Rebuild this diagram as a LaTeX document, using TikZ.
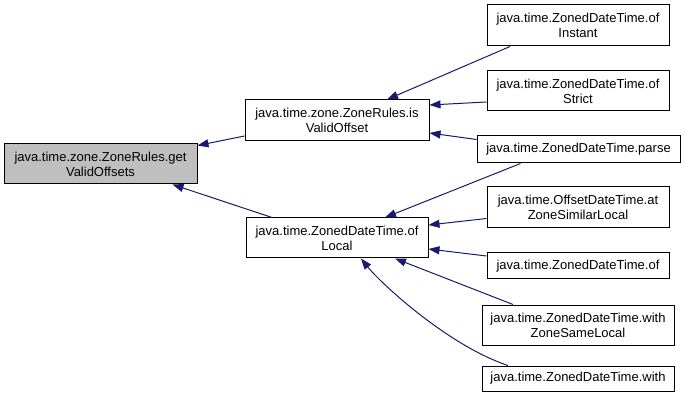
\documentclass[tikz,border=0pt]{standalone}
\usepackage{fontspec}
\setmainfont{Liberation Sans}
\usetikzlibrary{arrows.meta}
\definecolor{edgecol}{HTML}{191970}
\begin{document}
\begin{tikzpicture}[x=1pt,y=-1pt,
  box/.style={draw=black,line width=1pt,fill=white,align=center,inner sep=1pt,
    font=\fontsize{13}{15}\selectfont,anchor=center},
  edge/.style={draw=edgecol,line width=1pt,-{Triangle[length=11pt,width=8pt]}}]
\useasboundingbox (0,0) rectangle (685,403);
\node[box,fill={rgb,255:red,191;green,191;blue,191},minimum width=193pt,minimum height=40pt] (root) at (100.5,164) {java.time.zone.ZoneRules.get\\ValidOffsets};
\node[box,minimum width=184pt,minimum height=41pt] (isvo) at (337,120.5) {java.time.zone.ZoneRules.is\\ValidOffset};
\node[box,minimum width=182pt,minimum height=40pt] (oflocal) at (337,238) {java.time.ZonedDateTime.of\\Local};
\node[box,minimum width=182pt,minimum height=41pt] (ofinstant) at (578,25.5) {java.time.ZonedDateTime.of\\Instant};
\node[box,minimum width=182pt,minimum height=40pt] (ofstrict) at (578,91) {java.time.ZonedDateTime.of\\Strict};
\node[box,minimum width=203pt,minimum height=27pt] (parse) at (578.5,149.5) {java.time.ZonedDateTime.parse};
\node[box,minimum width=182pt,minimum height=41pt] (atzone) at (578,207.5) {java.time.OffsetDateTime.at\\ZoneSimilarLocal};
\node[box,minimum width=182pt,minimum height=26pt] (of) at (578,266) {java.time.ZonedDateTime.of};
\node[box,minimum width=192pt,minimum height=40pt] (withzsl) at (578,325) {java.time.ZonedDateTime.with\\ZoneSameLocal};
\node[box,minimum width=192pt,minimum height=25pt] (with) at (578,378.5) {java.time.ZonedDateTime.with};

\draw[edge] ([yshift=-15.5pt]isvo.west) -- ([yshift=-2pt]root.north east);
\draw[edge] ([xshift=-65pt]oflocal.north) -- ([xshift=72pt]root.south);
\draw[edge] ([xshift=-68pt]ofinstant.south) -- ([xshift=50pt]isvo.north);
\draw[edge] ([yshift=-11pt]ofstrict.west) -- ([yshift=15.5pt]isvo.east);
\draw[edge] ([yshift=10pt]parse.west) -- ([yshift=-12.5pt]isvo.east);
\draw[edge] ([xshift=-58pt]parse.south) -- ([xshift=48pt]oflocal.north);
\draw[edge] ([yshift=-11pt]atzone.west) -- ([yshift=13pt]oflocal.east);
\draw[edge] ([yshift=10pt]of.west) -- ([yshift=-11pt]oflocal.east);
\draw[edge] ([xshift=-65pt]withzsl.north) -- ([xshift=58pt]oflocal.south);
\draw[edge] ([xshift=-70pt]with.north) .. controls +(-60,-20) and +(20,25) .. ([xshift=24pt]oflocal.south);
\end{tikzpicture}
\end{document}
